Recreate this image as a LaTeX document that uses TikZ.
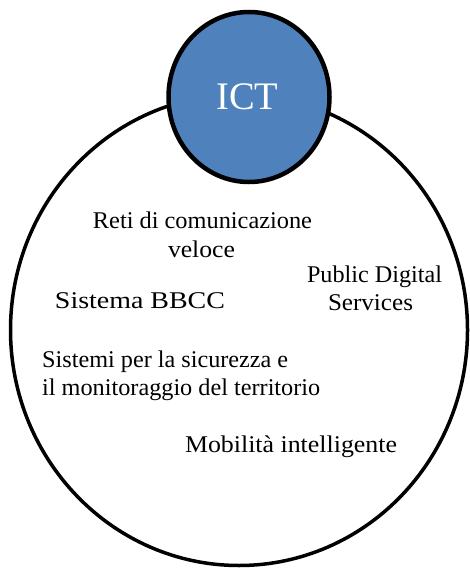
\documentclass[tikz,border=0pt]{standalone}
\usepackage{fontspec}
\setmainfont{Liberation Serif}
\usepackage{graphicx}
\usetikzlibrary{shapes.geometric}
\definecolor{ictblue}{RGB}{79,129,189}
\newcommand{\tw}[2]{\resizebox{#1pt}{\height}{#2}}
\begin{document}
\begin{tikzpicture}[x=1pt,y=-1pt,
  lbl/.style={inner sep=0pt,font=\fontsize{24}{28}\selectfont},
  outerring/.style={draw=black,line width=3.5pt,ellipse,inner sep=0pt},
  icttop/.style={draw=black,line width=4.5pt,ellipse,fill=ictblue,inner sep=0pt,text=white,font=\fontsize{39}{44}\selectfont}]
\useasboundingbox (0,0) rectangle (470,569);
\node[outerring,minimum width=457pt,minimum height=471pt] (big) at (239,330) {};
\node[icttop,minimum width=161pt,minimum height=170pt] (ict) at (249,97) {};
\node[inner sep=0pt,text=white,font=\fontsize{39}{44}\selectfont,anchor=base] (icttext) at (247.5,110) {\tw{62}{ICT}};
\node[lbl,anchor=base] (reti1) at (202.5,228) {\tw{219}{Reti di comunicazione}};
\node[lbl,anchor=base] (reti2) at (201.5,257) {\tw{67}{veloce}};
\node[lbl,anchor=base] (pub1) at (374.5,282) {\tw{135}{Public Digital}};
\node[lbl,anchor=base] (pub2) at (370.5,310) {\tw{85}{Services}};
\node[lbl,anchor=base] (bbcc) at (140,308) {\tw{170}{Sistema BBCC}};
\node[lbl,anchor=base west] (sic1) at (42,367) {\tw{246}{Sistemi per la sicurezza e}};
\node[lbl,anchor=base west] (sic2) at (42,395) {\tw{278}{il monitoraggio del territorio}};
\node[lbl,anchor=base] (mob) at (291,452) {\tw{212}{Mobilità intelligente}};
\end{tikzpicture}
\end{document}
